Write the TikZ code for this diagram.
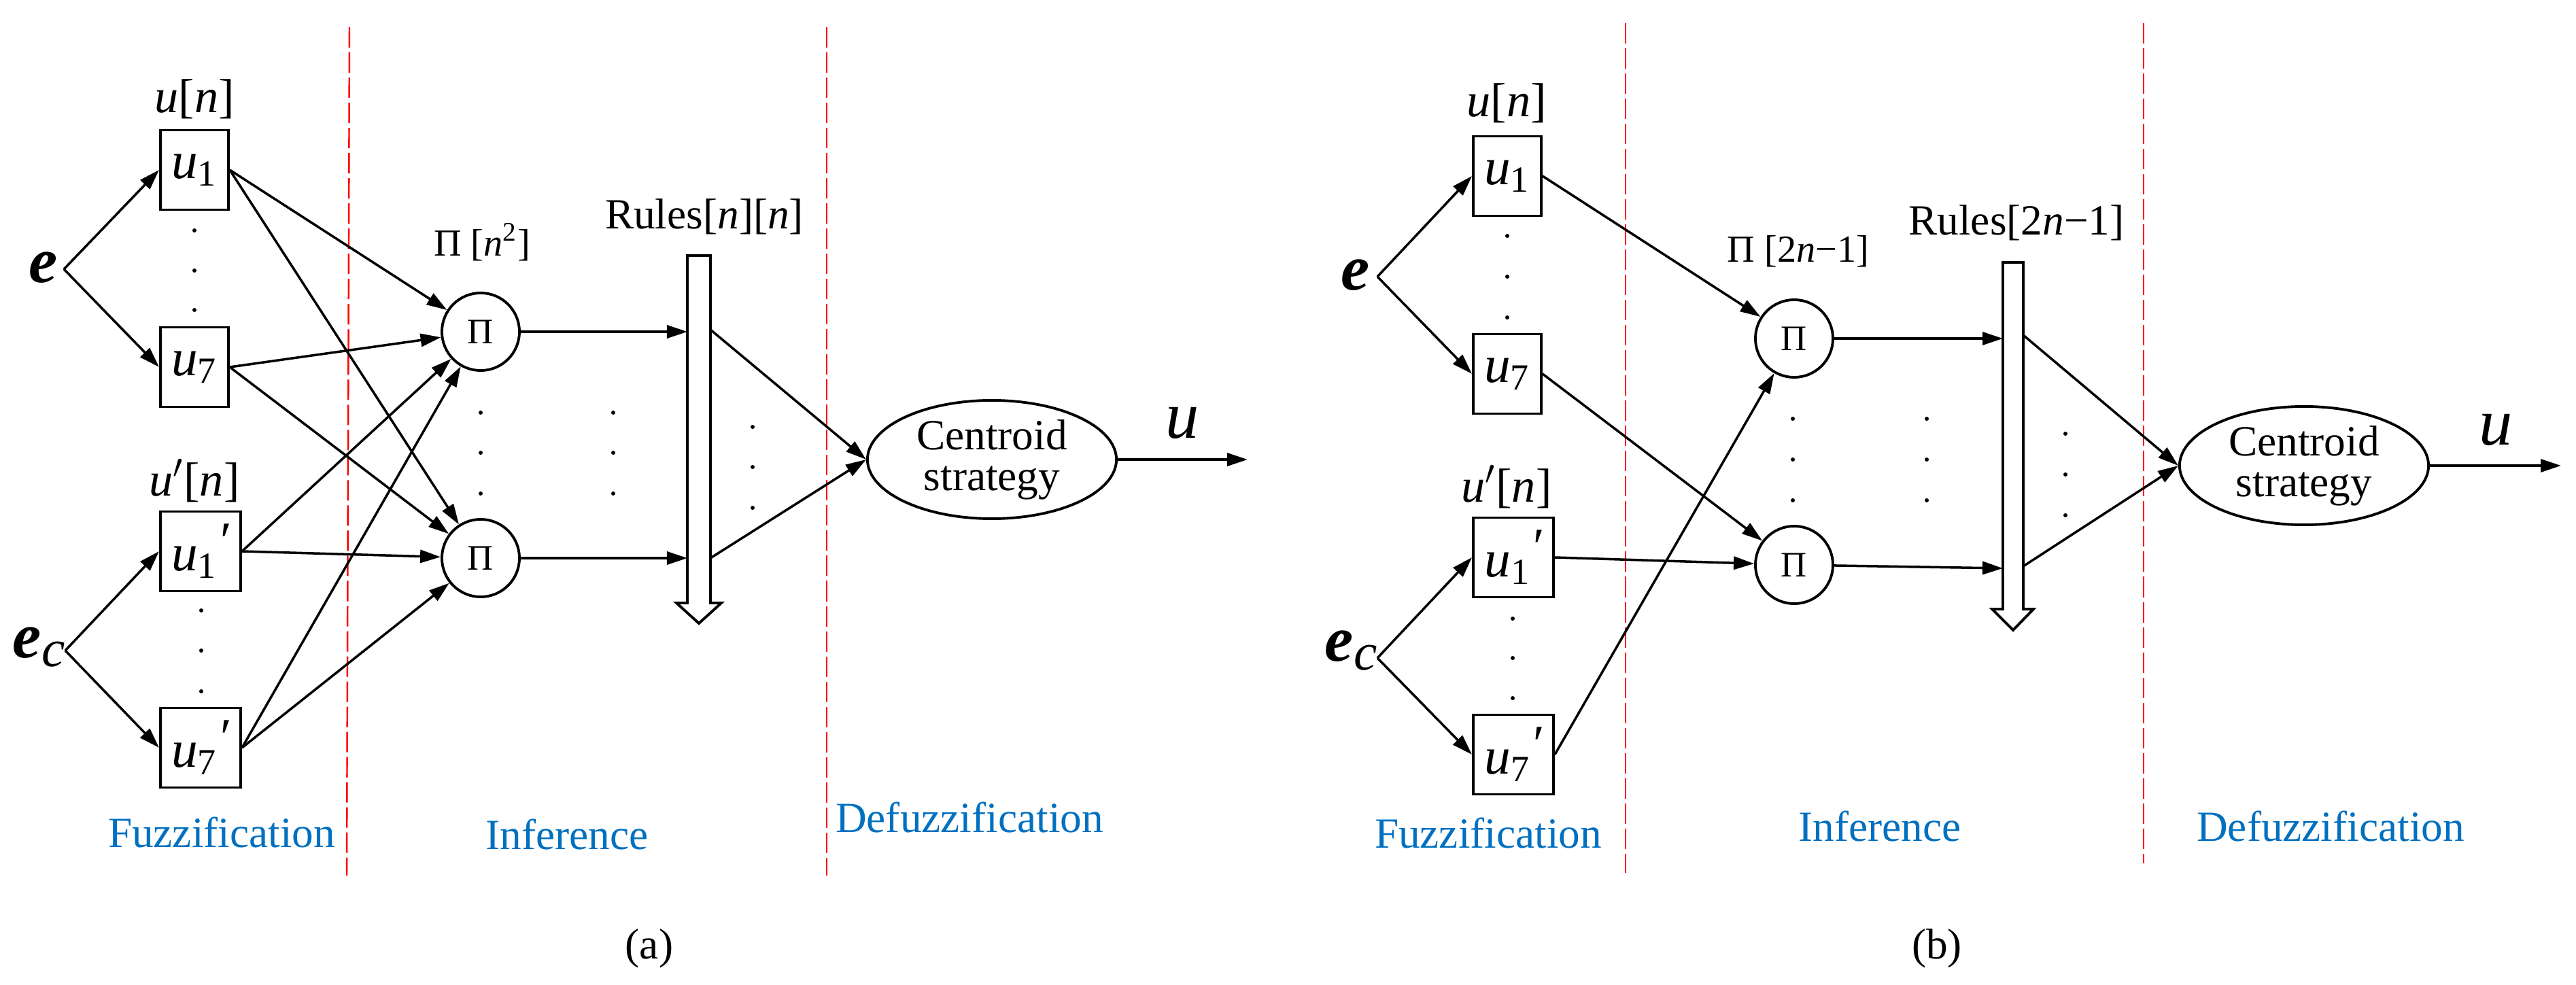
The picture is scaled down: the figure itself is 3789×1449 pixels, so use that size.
\documentclass[tikz,border=0pt]{standalone}
\usepackage{fontspec}
\setmainfont{Liberation Serif}
\usetikzlibrary{arrows.meta,shapes.geometric}
\definecolor{lblue}{RGB}{0,112,192}
\newcommand{\ui}[1]{\textit{u}\textsubscript{#1}}
\newcommand{\uip}[1]{\textit{u}\textsubscript{#1}\raisebox{0.5ex}{\textit{\char"2032}}}
\begin{document}
\begin{tikzpicture}[x=0.01cm,y=-0.01cm,
  box/.style={draw,line width=1.1pt,minimum width=1cm,minimum height=1.17cm,inner sep=0pt,font=\fontsize{22}{24}\selectfont},
  boxp/.style={box,minimum width=1.18cm},
  pin/.style={draw,circle,line width=1.1pt,minimum size=1.14cm,inner sep=0pt,font=\fontsize{15}{16}\selectfont},
  cen/.style={draw,ellipse,line width=1.1pt,minimum width=3.66cm,minimum height=1.74cm,inner sep=0pt,align=center,font=\fontsize{18}{17}\selectfont},
  arr/.style={line width=1pt,-{Triangle[length=0.3cm,width=0.19cm]}},
  ln/.style={line width=1pt},
  sep/.style={red,line width=0.7pt,dash pattern=on 0.3cm off 0.07cm},
  dot/.style={fill,circle,inner sep=0pt,minimum size=0.06cm},
  lbl/.style={font=\fontsize{18}{20}\selectfont},
  big/.style={font=\fontsize{27}{28}\selectfont\bfseries\itshape},
  blue/.style={text=lblue,font=\fontsize{18}{20}\selectfont},
  bar/.style={draw,line width=1.1pt,fill=white}]
\useasboundingbox (0,0) rectangle (3789,1449);
% ===== panel (a) =====
\draw[sep] (514,40) -- (510,1288);
\draw[sep] (1216,40) -- (1216,1288);
\node[box] (a-u1) at (286,250) {\ui{1}};
\node[box] (a-u7) at (286,540) {\ui{7}};
\node[boxp] (a-u1p) at (295,811) {\uip{1}};
\node[boxp] (a-u7p) at (295,1100) {\uip{7}};
\node[lbl,font=\fontsize{20}{20}\selectfont] (a-un) at (286,146) {\textit{u}[\textit{n}]};
\node[lbl,font=\fontsize{20}{20}\selectfont] (a-unp) at (286,707) {\textit{u}$'$[\textit{n}]};
\foreach \y [count=\i] in {339,398,456} \node[dot] (a-d1\i) at (286,\y) {};
\foreach \y [count=\i] in {898,957,1017} \node[dot] (a-d2\i) at (296,\y) {};
\node[big] (a-e) at (64,394) {e};
\coordinate (a-eb) at (94,396);
\node[big] (a-ec) at (58,952) {e\textsubscript{\fontsize{22}{22}\selectfont\mdseries c}};
\coordinate (a-ecb) at (96,957);
\draw[arr] (a-eb) -- (a-u1.west);
\draw[arr] (a-eb) -- (a-u7.west);
\draw[arr] (a-ecb) -- (a-u1p.west);
\draw[arr] (a-ecb) -- (a-u7p.west);
\node[pin] (a-p1) at (707,488) {Π};
\node[pin] (a-p2) at (707,821) {Π};
\node[lbl,font=\fontsize{16}{16}\selectfont] (a-pl) at (709,356) {Π [\textit{n}\textsuperscript{2}]};
\foreach \s in {a-u1,a-u7,a-u1p,a-u7p} {\draw[arr] (\s.east) -- (a-p1); \draw[arr] (\s.east) -- (a-p2);}
\foreach \y [count=\i] in {607,666,726} {\node[dot] (a-d3\i) at (707,\y) {}; \node[dot] (a-d4\i) at (902,\y) {};}
\node[lbl] (a-rl) at (1036,319) {Rules[\textit{n}][\textit{n}]};
\draw[bar] (1011,376) -- (1045,376) -- (1045,887) -- (1061,887) -- (1028,917) -- (995,887) -- (1011,887) -- cycle;
\coordinate (a-r1) at (1011,488); \coordinate (a-r2) at (1011,821);
\coordinate (a-s1) at (1045,485); \coordinate (a-s2) at (1045,821);
\draw[arr] (a-p1) -- (a-r1);
\draw[arr] (a-p2) -- (a-r2);
\foreach \y [count=\i] in {628,687,747} \node[dot] (a-d5\i) at (1107,\y) {};
\node[cen] (a-c) at (1459,676) {Centroid\\strategy};
\draw[arr] (a-s1) -- (a-c.west);
\draw[arr] (a-s2) -- (a-c.west);
\coordinate (a-out) at (1835,676);
\draw[arr] (a-c.east) -- (a-out);
\node[font=\fontsize{28}{28}\selectfont\itshape] (a-u) at (1739,622) {u};
\node[blue] (a-f) at (326,1225) {Fuzzification};
\node[blue] (a-i) at (834,1228) {Inference};
\node[blue] (a-df) at (1426,1203) {Defuzzification};
\node[lbl] (a-cap) at (955,1395) {(a)};
% ===== panel (b) =====
\draw[sep] (2391,34) -- (2391,1284);
\draw[sep] (3153,34) -- (3153,1270);
\node[box] (b-u1) at (2217,259) {\ui{1}};
\node[box] (b-u7) at (2217,550) {\ui{7}};
\node[boxp] (b-u1p) at (2226,820) {\uip{1}};
\node[boxp] (b-u7p) at (2226,1110) {\uip{7}};
\node[lbl,font=\fontsize{20}{20}\selectfont] (b-un) at (2216,152) {\textit{u}[\textit{n}]};
\node[lbl,font=\fontsize{20}{20}\selectfont] (b-unp) at (2216,716) {\textit{u}$'$[\textit{n}]};
\foreach \y [count=\i] in {347,407,467} \node[dot] (b-d1\i) at (2217,\y) {};
\foreach \y [count=\i] in {910,968,1027} \node[dot] (b-d2\i) at (2225,\y) {};
\node[big] (b-e) at (1994,405) {e};
\coordinate (b-eb) at (2026,407);
\node[big] (b-ec) at (1988,957) {e\textsubscript{\fontsize{22}{22}\selectfont\mdseries c}};
\coordinate (b-ecb) at (2026,968);
\draw[arr] (b-eb) -- (b-u1.west);
\draw[arr] (b-eb) -- (b-u7.west);
\draw[arr] (b-ecb) -- (b-u1p.west);
\draw[arr] (b-ecb) -- (b-u7p.west);
\node[pin] (b-p1) at (2639,498) {Π};
\node[pin] (b-p2) at (2639,831) {Π};
\node[lbl,font=\fontsize{16}{16}\selectfont] (b-pl) at (2645,370) {Π [2\textit{n}−1]};
\draw[arr] (b-u1.east) -- (b-p1);
\draw[arr] (b-u7.east) -- (b-p2);
\draw[arr] (b-u1p.east) -- (b-p2);
\draw[arr] (b-u7p.east) -- (b-p1);
\foreach \y [count=\i] in {616,676,736} {\node[dot] (b-d3\i) at (2637,\y) {}; \node[dot] (b-d4\i) at (2834,\y) {};}
\node[lbl] (b-rl) at (2966,328) {Rules[2\textit{n}−1]};
\draw[bar] (2946,386) -- (2976,386) -- (2976,896) -- (2991,896) -- (2961,927) -- (2930,896) -- (2946,896) -- cycle;
\coordinate (b-r1) at (2946,498); \coordinate (b-r2) at (2946,836);
\coordinate (b-s1) at (2976,493); \coordinate (b-s2) at (2976,833);
\draw[arr] (b-p1) -- (b-r1);
\draw[arr] (b-p2) -- (b-r2);
\foreach \y [count=\i] in {638,698,758} \node[dot] (b-d5\i) at (3038,\y) {};
\node[cen] (b-c) at (3389,685) {Centroid\\strategy};
\draw[arr] (b-s1) -- (b-c.west);
\draw[arr] (b-s2) -- (b-c.west);
\coordinate (b-out) at (3767,685);
\draw[arr] (b-c.east) -- (b-out);
\node[font=\fontsize{28}{28}\selectfont\itshape] (b-u) at (3671,632) {u};
\node[blue] (b-f) at (2189,1226) {Fuzzification};
\node[blue] (b-i) at (2765,1216) {Inference};
\node[blue] (b-df) at (3428,1216) {Defuzzification};
\node[lbl] (b-cap) at (2849,1395) {(b)};
\end{tikzpicture}
\end{document}
